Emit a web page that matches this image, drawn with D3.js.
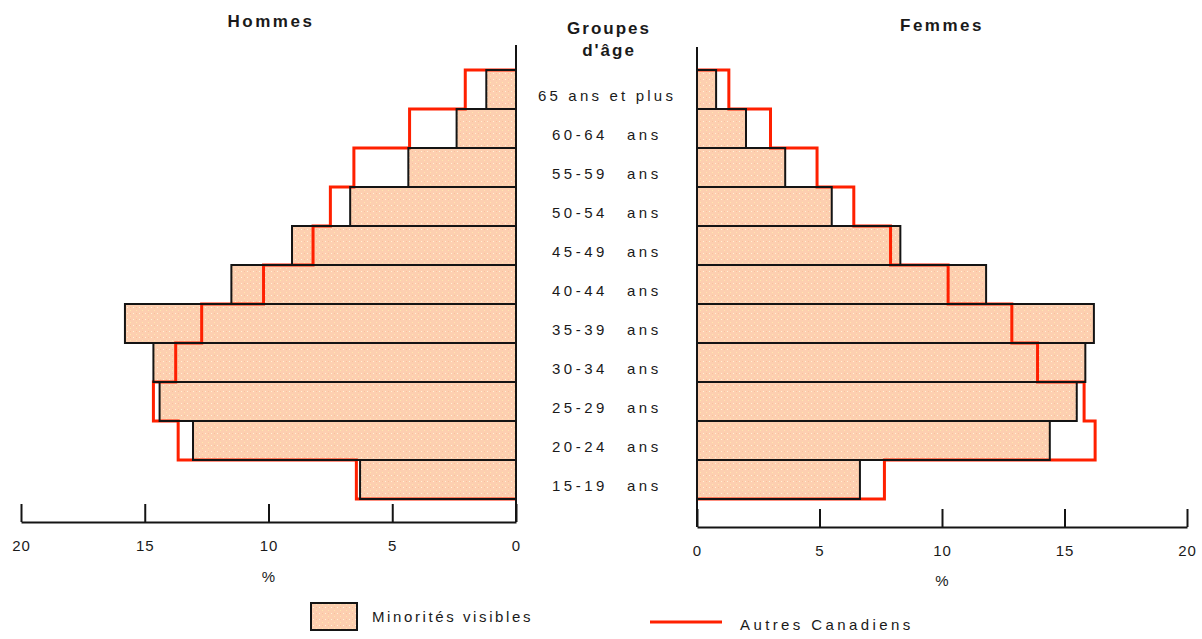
<!DOCTYPE html>
<html>
<head>
<meta charset="utf-8">
<script src="https://cdn.jsdelivr.net/npm/d3@7/dist/d3.min.js"></script>
<style>
  html, body { margin: 0; padding: 0; background: #fff; }
  svg { display: block; }
  text { font-family: "Liberation Sans", Arial, Helvetica, sans-serif; fill: #1a1a1a; }
</style>
</head>
<body>
<svg id="chart" width="1202" height="639"></svg>
<script>
// ---- data ----
const ageGroups = ["65 ans et plus", "60-64 ans", "55-59 ans", "50-54 ans", "45-49 ans",
  "40-44 ans", "35-39 ans", "30-34 ans", "25-29 ans", "20-24 ans", "15-19 ans"];
const hommesMinorites = [1.2, 2.4, 4.35, 6.7, 9.05, 11.5, 15.8, 14.65, 14.4, 13.05, 6.3];
const hommesAutres    = [2.05, 4.3, 6.55, 7.5, 8.2, 10.2, 12.7, 13.75, 14.65, 13.65, 6.45];
const femmesMinorites = [0.78, 2.0, 3.6, 5.5, 8.3, 11.8, 16.2, 15.85, 15.5, 14.4, 6.65];
const femmesAutres    = [1.3, 3.0, 4.9, 6.4, 7.9, 10.25, 12.85, 13.9, 15.8, 16.25, 7.65];
const tickValues = [0, 5, 10, 15, 20];
const panelTitles = ["Hommes", "Femmes"];
const centerTitle = ["Groupes", "d'âge"];
const axisLabel = "%";
const legendLabels = ["Minorités visibles", "Autres Canadiens"];

// ---- setup ----
const svg = d3.select("#chart");
const RED = "#ff2000";
const INK = "#141414";

const defs = svg.append("defs");
const pat = defs.append("pattern").attr("id", "stipple")
  .attr("patternUnits", "userSpaceOnUse").attr("width", 6).attr("height", 6);
pat.append("rect").attr("width", 6).attr("height", 6).attr("fill", "#fdcfb0");
pat.append("rect").attr("x", 1).attr("y", 1).attr("width", 1).attr("height", 1).attr("fill", "#fff3d8");
pat.append("rect").attr("x", 4).attr("y", 4).attr("width", 1).attr("height", 1).attr("fill", "#ffe9b0");
pat.append("rect").attr("x", 4).attr("y", 1).attr("width", 1).attr("height", 1).attr("fill", "#f9c09c");

const y = d3.scaleBand().domain(ageGroups).range([70, 499]).padding(0);
const xL = d3.scaleLinear().domain([0, 20]).range([516, 21]);
const xR = d3.scaleLinear().domain([0, 20]).range([697, 1187]);

function drawSide(x, minor, autres, axisY, axisTop, pctY) {
  const g = svg.append("g");
  // fills
  g.selectAll("rect.fill").data(ageGroups).join("rect").attr("class", "fill")
    .attr("x", (d, i) => Math.min(x(0), x(minor[i])))
    .attr("y", d => y(d))
    .attr("width", (d, i) => Math.abs(x(minor[i]) - x(0)))
    .attr("height", y.bandwidth())
    .attr("fill", "url(#stipple)");
  // red step outline (Autres Canadiens)
  const pts = [[x(0), y(ageGroups[0])]];
  ageGroups.forEach((d, i) => {
    pts.push([x(autres[i]), y(d)]);
    pts.push([x(autres[i]), y(d) + y.bandwidth()]);
  });
  pts.push([x(0), y(ageGroups[ageGroups.length - 1]) + y.bandwidth()]);
  g.append("path").attr("d", d3.line()(pts))
    .attr("fill", "none").attr("stroke", RED).attr("stroke-width", 3)
    .attr("stroke-linejoin", "miter");
  // black bar outlines
  g.selectAll("rect.out").data(ageGroups).join("rect").attr("class", "out")
    .attr("x", (d, i) => Math.min(x(0), x(minor[i])))
    .attr("y", d => y(d))
    .attr("width", (d, i) => Math.abs(x(minor[i]) - x(0)))
    .attr("height", y.bandwidth())
    .attr("fill", "none").attr("stroke", INK).attr("stroke-width", 2);
  // vertical axis
  g.append("line").attr("x1", x(0)).attr("x2", x(0)).attr("y1", axisTop).attr("y2", axisY)
    .attr("stroke", INK).attr("stroke-width", 2);
  // horizontal axis
  const ax = svg.append("g").attr("transform", `translate(0,${axisY})`)
    .call(d3.axisBottom(x).tickValues(tickValues).tickSize(-18).tickSizeOuter(0).tickPadding(18)
      .tickFormat(d3.format("d")));
  ax.select(".domain").attr("stroke", INK).attr("stroke-width", 2);
  ax.selectAll(".tick line").attr("stroke", INK).attr("stroke-width", 2);
  ax.selectAll(".tick text").attr("font-size", 15).attr("fill", "#1a1a1a")
    .style("font-family", '"Liberation Sans", Arial, sans-serif').attr("letter-spacing", 1);
  svg.append("text").attr("x", x(10)).attr("y", pctY).attr("text-anchor", "middle")
    .attr("font-size", 15).text(axisLabel);
}

drawSide(xL, hommesMinorites, hommesAutres, 522, 45, 582);
drawSide(xR, femmesMinorites, femmesAutres, 527, 47, 586);

// titles
svg.append("text").attr("x", 271).attr("y", 27).attr("text-anchor", "middle")
  .attr("font-size", 17).attr("font-weight", "bold").attr("letter-spacing", 2.5).text(panelTitles[0]);
svg.append("text").attr("x", 942).attr("y", 31).attr("text-anchor", "middle")
  .attr("font-size", 17).attr("font-weight", "bold").attr("letter-spacing", 2.5).text(panelTitles[1]);
svg.append("text").attr("x", 609).attr("y", 34).attr("text-anchor", "middle")
  .attr("font-size", 17).attr("font-weight", "bold").attr("letter-spacing", 2).text(centerTitle[0]);
svg.append("text").attr("x", 609).attr("y", 56).attr("text-anchor", "middle")
  .attr("font-size", 17).attr("font-weight", "bold").attr("letter-spacing", 2).text(centerTitle[1]);

// age labels
const lab = svg.append("g");
ageGroups.forEach((d, i) => {
  const cy = y(d) + y.bandwidth() / 2 + 11;
  const m = d.match(/^(\d+-\d+)\s+(ans)$/);
  if (m) {
    lab.append("text").attr("x", 552).attr("y", cy).attr("font-size", 15)
      .attr("letter-spacing", 3.5).text(m[1]);
    lab.append("text").attr("x", 627).attr("y", cy).attr("font-size", 15)
      .attr("letter-spacing", 3.5).text(m[2]);
  } else {
    lab.append("text").attr("x", 607).attr("y", cy).attr("text-anchor", "middle").attr("font-size", 15)
      .attr("letter-spacing", 3.2).text(d);
  }
});

// legend
const lg = svg.append("g");
lg.append("rect").attr("x", 311).attr("y", 603).attr("width", 46).attr("height", 27)
  .attr("fill", "url(#stipple)").attr("stroke", INK).attr("stroke-width", 2);
lg.append("text").attr("x", 372).attr("y", 622).attr("font-size", 15).attr("letter-spacing", 2.6)
  .text(legendLabels[0]);
lg.append("line").attr("x1", 650).attr("x2", 722).attr("y1", 622).attr("y2", 622)
  .attr("stroke", RED).attr("stroke-width", 3);
lg.append("text").attr("x", 740).attr("y", 630).attr("font-size", 15).attr("letter-spacing", 3.4)
  .text(legendLabels[1]);
</script>
</body>
</html>
